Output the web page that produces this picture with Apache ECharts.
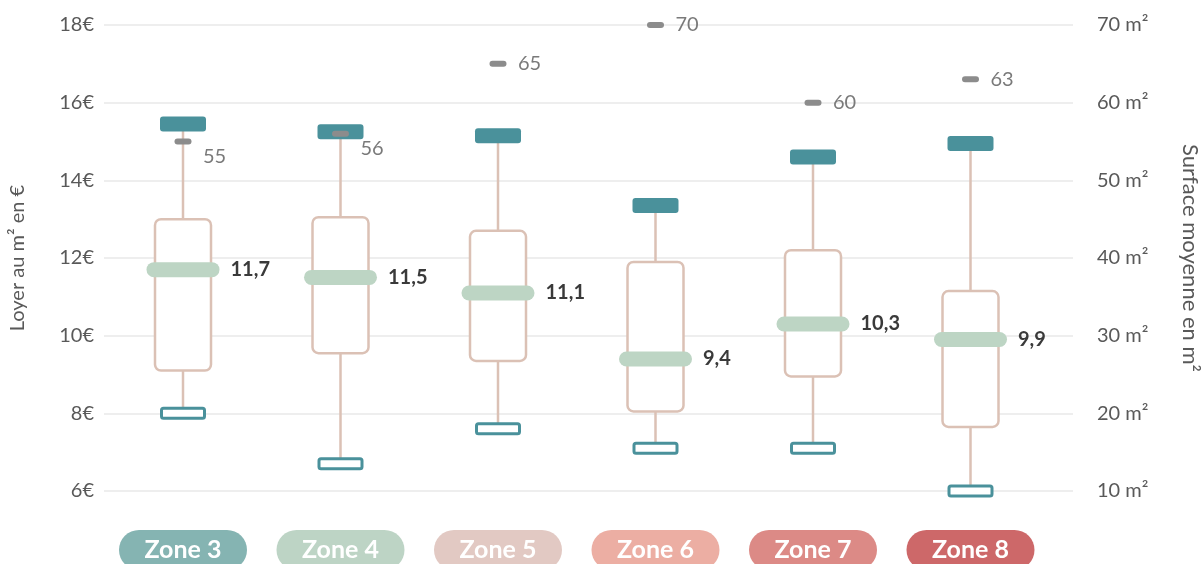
<!DOCTYPE html>
<html>
<head>
<meta charset="utf-8">
<script src="https://cdn.jsdelivr.net/npm/echarts@6/dist/echarts.min.js"></script>
<style>
  html, body { margin: 0; padding: 0; background: #ffffff; }
  #chart { width: 1202px; height: 564px; }
</style>
</head>
<body>
<div id="chart"></div>
<script>
// Loyer au m² par zone : minimum, quartiles, médiane, maximum
const categories = ['Zone 3', 'Zone 4', 'Zone 5', 'Zone 6', 'Zone 7', 'Zone 8'];
const lowValues    = [8.0, 6.7, 7.6, 7.1, 7.1, 6.0];
const q1Values     = [9.1, 9.55, 9.35, 8.05, 8.95, 7.65];
const medianValues = [11.7, 11.5, 11.1, 9.4, 10.3, 9.9];
const q3Values     = [13.0, 13.05, 12.7, 11.9, 12.2, 11.15];
const highValues   = [15.45, 15.25, 15.15, 13.35, 14.6, 14.95];
// Surface moyenne des logements (axe de droite)
const surfaceValues = [55, 56, 65, 70, 60, 63];

const rentTicks = { min: 6, max: 18, interval: 2 };
const surfaceTicks = { min: 10, max: 70, interval: 10 };

const zoneColors = ['#85b4b2', '#bdd4c5', '#e2c9c3', '#ecaea3', '#dc8a86', '#cd6869'];

const FONT = 'Lato, "Open Sans", sans-serif';
const TEAL = '#4a919b';
const BOX = '#dbc1b5';
const MEDIAN = '#bdd5c4';

const fr = v => String(v).replace('.', ',');

const boxData = categories.map((c, i) =>
  [i, lowValues[i], q1Values[i], medianValues[i], q3Values[i], highValues[i]]);
const surfaceData = categories.map((c, i) => [i, surfaceValues[i]]);

const rich = {};
zoneColors.forEach((col, i) => {
  rich['z' + i] = {
    backgroundColor: col,
    color: '#ffffff',
    fontFamily: FONT,
    fontWeight: 'bold',
    fontSize: 25,
    width: 128,
    height: 40,
    lineHeight: 40,
    align: 'center',
    borderRadius: 20
  };
});

const chart = echarts.init(document.getElementById('chart'), null, { renderer: 'canvas' });

const grids = [
  { left: 104, right: 129, top: 25, bottom: 73, outerBoundsMode: 'none', containLabel: false },
  { left: 104.25, right: 152.75, top: 25, bottom: 73, outerBoundsMode: 'none', containLabel: false }
];

chart.setOption({
  animation: false,
  backgroundColor: '#ffffff',
  grid: grids,
  xAxis: [
    { gridIndex: 0, type: 'category', data: categories, show: false },
    {
      gridIndex: 1, type: 'category', data: categories,
      axisLine: { show: false }, axisTick: { show: false },
      axisLabel: {
        margin: 39,
        interval: 0,
        formatter: (v, idx) => '{z' + idx + '|' + v + '}',
        rich: rich
      }
    }
  ],
  yAxis: [
    {
      gridIndex: 0, type: 'value', position: 'left',
      min: rentTicks.min, max: rentTicks.max, interval: rentTicks.interval,
      name: 'Loyer au m² en €', nameLocation: 'middle', nameRotate: 90, nameGap: 76,
      nameTextStyle: { fontFamily: FONT, fontSize: 20, color: '#595959' },
      axisLine: { show: false }, axisTick: { show: false },
      axisLabel: { formatter: v => v + '€', fontFamily: FONT, fontSize: 20, color: '#595959', margin: 10 },
      splitLine: { lineStyle: { color: '#e9e9e9', width: 1.5 } }
    },
    {
      gridIndex: 0, type: 'value', position: 'right',
      min: surfaceTicks.min, max: surfaceTicks.max, interval: surfaceTicks.interval,
      name: 'Surface moyenne en m²', nameLocation: 'middle', nameRotate: -90, nameGap: 106,
      nameTextStyle: { fontFamily: FONT, fontSize: 22, color: '#595959' },
      axisLine: { show: false }, axisTick: { show: false },
      axisLabel: { formatter: v => v + ' m²', fontFamily: FONT, fontSize: 20, color: '#595959', margin: 24 },
      splitLine: { show: false }
    },
    { gridIndex: 1, type: 'value', min: rentTicks.min, max: rentTicks.max, show: false },
    { gridIndex: 1, type: 'value', min: surfaceTicks.min, max: surfaceTicks.max, show: false }
  ],
  series: [
    {
      type: 'custom',
      xAxisIndex: 1, yAxisIndex: 2,
      clip: false,
      data: boxData,
      renderItem: (params, api) => {
        const i = api.value(0);
        const cx = api.coord([i, api.value(3)])[0];
        const yLow = api.coord([i, api.value(1)])[1];
        const yQ1 = api.coord([i, api.value(2)])[1];
        const yMed = api.coord([i, api.value(3)])[1];
        const yQ3 = api.coord([i, api.value(4)])[1];
        const yHigh = api.coord([i, api.value(5)])[1];
        const lineStyle = { stroke: BOX, lineWidth: 2.5 };
        return {
          type: 'group',
          children: [
            { type: 'line', shape: { x1: cx, y1: yHigh, x2: cx, y2: yQ3 }, style: lineStyle },
            { type: 'line', shape: { x1: cx, y1: yQ1, x2: cx, y2: yLow }, style: lineStyle },
            {
              type: 'rect',
              shape: { x: cx - 28, y: yQ3, width: 56, height: yQ1 - yQ3, r: 6 },
              style: { fill: '#ffffff', stroke: BOX, lineWidth: 2.5 }
            },
            {
              type: 'rect',
              shape: { x: cx - 23, y: yHigh - 7.5, width: 46, height: 15, r: 3 },
              style: { fill: TEAL }
            },
            {
              type: 'rect',
              shape: { x: cx - 21.5, y: yLow - 5, width: 43, height: 10, r: 2 },
              style: { fill: '#ffffff', stroke: TEAL, lineWidth: 3 }
            },
            {
              type: 'rect',
              shape: { x: cx - 36.5, y: yMed - 7.5, width: 73, height: 15, r: 7.5 },
              style: { fill: MEDIAN }
            },
            {
              type: 'text',
              x: cx + 47.5, y: yMed,
              style: {
                text: fr(api.value(3)),
                fill: '#3a3a3a',
                fontFamily: FONT, fontWeight: 'bold', fontSize: 20,
                verticalAlign: 'middle', align: 'left'
              }
            }
          ]
        };
      }
    },
    {
      type: 'custom',
      xAxisIndex: 1, yAxisIndex: 3,
      clip: false,
      data: surfaceData,
      renderItem: (params, api) => {
        const i = api.value(0);
        const pt = api.coord([i, api.value(1)]);
        const cx = pt[0], y = pt[1];
        // keep the value readable when the marker sits just under the top cap
        const capPos = params.coordSys.y + params.coordSys.height -
          (highValues[i] - rentTicks.min) / (rentTicks.max - rentTicks.min) * params.coordSys.height;
        const dy = Math.abs(y - capPos) < 30 ? 15 : 0;
        return {
          type: 'group',
          children: [
            {
              type: 'rect',
              shape: { x: cx - 8.5, y: y - 3, width: 17, height: 6, r: 3 },
              style: { fill: '#8c8c8c' }
            },
            {
              type: 'text',
              x: cx + 20, y: y + dy,
              style: {
                text: String(api.value(1)),
                fill: '#7a7a7a',
                fontFamily: FONT, fontSize: 20,
                verticalAlign: 'middle', align: 'left'
              }
            }
          ]
        };
      }
    }
  ]
});
</script>
</body>
</html>
